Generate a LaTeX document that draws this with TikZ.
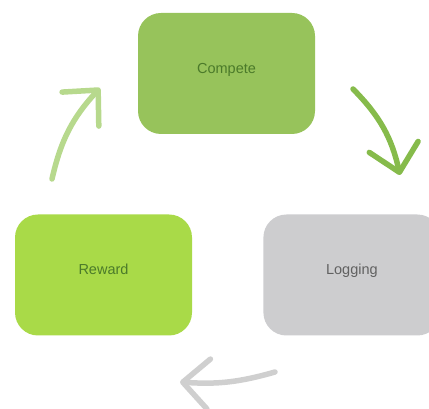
\documentclass[tikz,border=0pt]{standalone}
\usepackage{fontspec}
\setmainfont{Liberation Sans}
\usepackage{xcolor}
\definecolor{cCompete}{HTML}{97C35B}
\definecolor{cReward}{HTML}{A9DA48}
\definecolor{cLogging}{HTML}{CDCDCF}
\definecolor{cTextGreen}{HTML}{4B7A2A}
\definecolor{cTextGray}{HTML}{616161}
\definecolor{cArrowMain}{HTML}{86BB4B}
\definecolor{cArrowSoft}{HTML}{B7D98D}
\definecolor{cArrowGray}{HTML}{CFCFCF}
\usepackage{tikz}
\usetikzlibrary{positioning,arrows.meta}
\tikzset{
  node-box/.style={rounded corners=23pt,minimum width=177pt,minimum height=121pt,
    inner sep=0pt,text height=8pt,text depth=8pt,align=center,
    font=\fontsize{14.5}{17}\selectfont},
  node-compete/.style={fill=cCompete,text=cTextGreen},
  node-reward/.style={fill=cReward,text=cTextGreen},
  node-logging/.style={fill=cLogging,text=cTextGray},
  arrow/.style={-{Straight Barb[length=26pt,width=50pt,round]},line width=5.5pt,
    line cap=round},
  arrow-main/.style={arrow,draw=cArrowMain},
  arrow-soft/.style={arrow,draw=cArrowSoft},
  arrow-gray/.style={arrow,draw=cArrowGray},
}

\begin{document}
\begin{tikzpicture}[x=1pt,y=1pt]
  \path[use as bounding box,clip] (0,0) rectangle (429,409);
  \node[node-box,node-compete] (compete) at (226.5,335.5) {Compete};
  \node[node-box,node-reward] (reward) at (103.5,134) {Reward};
  \node[node-box,node-logging,right=71pt of reward] (logging) {Logging};
  % free ends of the cycle arrows
  \coordinate (c2l-a) at (353,320);
  \coordinate (c2l-b) at (400,234);
  \coordinate (l2r-a) at (275,37);
  \coordinate (l2r-b) at (180,27);
  \coordinate (r2c-a) at (52,230);
  \coordinate (r2c-b) at (100,321);
  \draw[arrow-main] (c2l-a) to[bend left=16] (c2l-b);
  \draw[arrow-gray] (l2r-a) to[bend left=10] (l2r-b);
  \draw[arrow-soft] (r2c-a) to[bend left=15] (r2c-b);
\end{tikzpicture}
\end{document}
